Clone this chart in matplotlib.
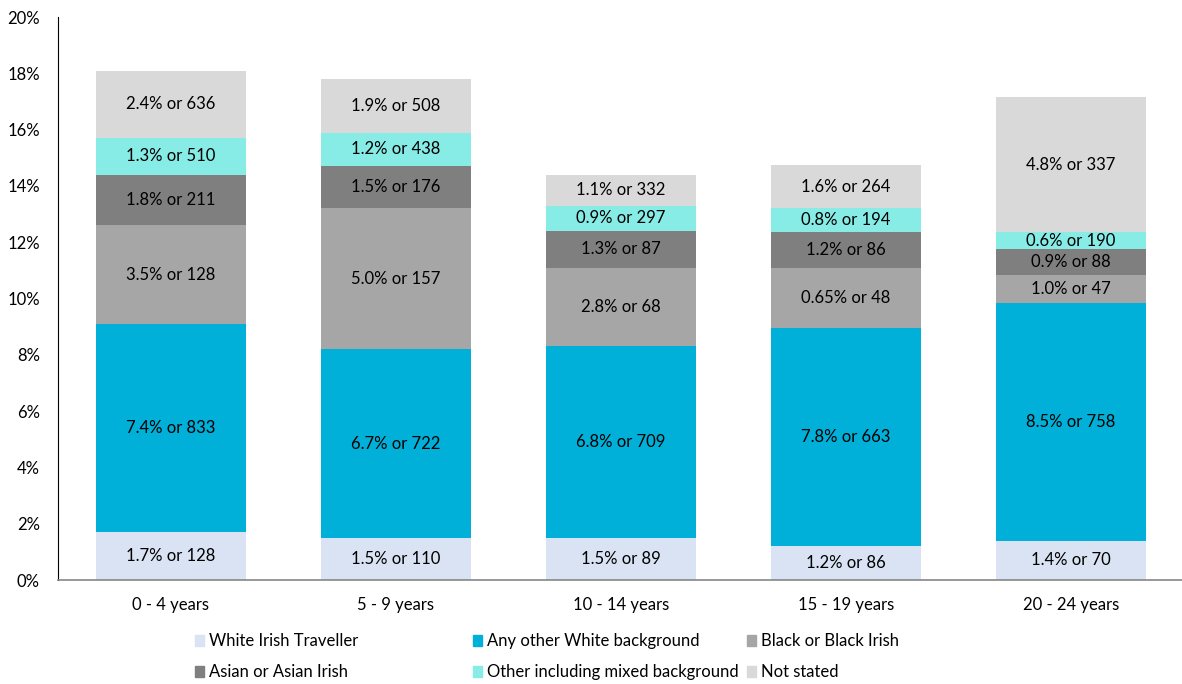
import matplotlib
matplotlib.use("Agg")
import matplotlib.pyplot as plt
import matplotlib.ticker as mticker
from matplotlib.patches import Patch
import numpy as np

# age groups and stacked segment heights (% of group)
groups = ['0 - 4 years', '5 - 9 years', '10 - 14 years', '15 - 19 years', '20 - 24 years']
series = ['White Irish Traveller', 'Any other White background', 'Black or Black Irish',
          'Asian or Asian Irish', 'Other including mixed background', 'Not stated']
traveller = [1.7, 1.5, 1.5, 1.2, 1.4]
other_white = [7.4, 6.7, 6.8, 7.75, 8.45]
black = [3.5, 5.0, 2.8, 2.15, 1.0]
asian = [1.8, 1.5, 1.3, 1.25, 0.9]
mixed = [1.3, 1.2, 0.9, 0.85, 0.6]
not_stated = [2.4, 1.9, 1.1, 1.55, 4.8]

# segment labels as printed on the chart
lab_traveller = ['1.7% or 128', '1.5% or 110', '1.5% or 89', '1.2% or 86', '1.4% or 70']
lab_other_white = ['7.4% or 833', '6.7% or 722', '6.8% or 709', '7.8% or 663', '8.5% or 758']
lab_black = ['3.5% or 128', '5.0% or 157', '2.8% or 68', '0.65% or 48', '1.0% or 47']
lab_asian = ['1.8% or 211', '1.5% or 176', '1.3% or 87', '1.2% or 86', '0.9% or 88']
lab_mixed = ['1.3% or 510', '1.2% or 438', '0.9% or 297', '0.8% or 194', '0.6% or 190']
lab_not_stated = ['2.4% or 636', '1.9% or 508', '1.1% or 332', '1.6% or 264', '4.8% or 337']

colors = ['#DAE3F3', '#00B0D8', '#A6A6A6', '#7F7F7F', '#87ECE6', '#D9D9D9']

plt.rcParams['font.family'] = ['Lato', 'DejaVu Sans']
plt.rcParams['font.size'] = 12

fig = plt.figure(figsize=(11.82, 6.84), dpi=100)
ax = fig.add_axes([0.0491, 0.152, 0.9518, 0.823])

x = np.arange(len(groups))
values = [traveller, other_white, black, asian, mixed, not_stated]
labels = [lab_traveller, lab_other_white, lab_black, lab_asian, lab_mixed, lab_not_stated]
bottom = np.zeros(len(groups))
for vals, labs, col in zip(values, labels, colors):
    bars = ax.bar(x, vals, width=0.667, bottom=bottom, color=col)
    ax.bar_label(bars, labels=labs, label_type='center', fontsize=12, color='black')
    bottom += np.array(vals)

ax.set_xlim(-0.502, len(groups) - 0.502)
ax.set_ylim(0, 20)
ax.yaxis.set_major_locator(mticker.MultipleLocator(2))
ax.yaxis.set_major_formatter(mticker.FuncFormatter(lambda v, p: '%d%%' % v))
ax.set_xticks(x)
ax.set_xticklabels(groups)
ax.tick_params(axis='both', length=0, labelsize=12)
ax.tick_params(axis='y', pad=13)
ax.tick_params(axis='x', pad=12)

ax.spines['top'].set_visible(False)
ax.spines['right'].set_visible(False)
ax.spines['left'].set_color('black')
ax.spines['bottom'].set_color('#868686')
ax.spines['bottom'].set_linewidth(1.2)

# legend laid out row-wise in three equal columns like the original
col_x = [195 / 1182, 473 / 1182, 747 / 1182]
for c in range(3):
    hs = [Patch(color=colors[c]), Patch(color=colors[c + 3])]
    leg = fig.legend(hs, [series[c], series[c + 3]], loc='upper left',
                     bbox_to_anchor=(col_x[c], 0.074), frameon=False, fontsize=12,
                     handlelength=0.55, handleheight=0.55, handletextpad=0.3,
                     labelspacing=0.9, borderaxespad=0, borderpad=0)

fig.savefig('out.png', dpi=100)
